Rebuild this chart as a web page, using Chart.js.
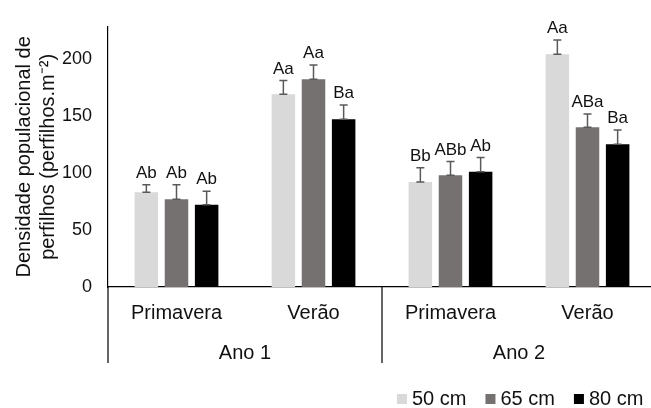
<!DOCTYPE html>
<html lang="pt">
<head>
  <meta charset="UTF-8">
  <title>Densidade populacional de perfilhos</title>
  <script src="https://cdn.jsdelivr.net/npm/chart.js"></script>
  <style>
    body { margin: 0; background: #fff; overflow: hidden; }
    #wrap { width: 656px; height: 408px; }
  </style>
</head>
<body>

<div id="wrap"><canvas id="chart"></canvas></div>

<script>
  const categories = ['Primavera', 'Verão', 'Primavera', 'Verão'];
  const years = ['Ano 1', 'Ano 2'];
  const series = ['50 cm', '65 cm', '80 cm'];
  const colors = ['#d9d9d9', '#767171', '#000000'];

  const values50 = [83, 169, 92, 204];
  const values65 = [77, 182, 98, 140];
  const values80 = [72, 147, 101, 125];

  const errors50 = [6.5, 12, 12.5, 12.5];
  const errors65 = [12.5, 12.5, 12, 11.5];
  const errors80 = [12, 12.5, 12.5, 12.5];

  const letters50 = ['Ab', 'Aa', 'Bb', 'Aa'];
  const letters65 = ['Ab', 'Aa', 'ABb', 'ABa'];
  const letters80 = ['Ab', 'Ba', 'Ab', 'Ba'];

  const yTicks = [0, 50, 100, 150, 200];
  const yTitle = ['Densidade populacional de', 'perfilhos (perfilhos.m⁻²)'];

  const FONT = "'Liberation Sans', Arial, sans-serif";
  const TEXT = '#111';

  const errors = [errors50, errors65, errors80];
  const letters = [letters50, letters65, letters80];

  // error bars, letters, year groups and legend
  const extras = {
    id: 'extras',
    afterDatasetsDraw(chart) {
      const ctx = chart.ctx;
      const y = chart.scales.y;
      ctx.save();
      chart.data.datasets.forEach((ds, i) => {
        const meta = chart.getDatasetMeta(i);
        meta.data.forEach((bar, j) => {
          const v = ds.data[j];
          const top = y.getPixelForValue(v + errors[i][j]);
          const base = y.getPixelForValue(v);
          ctx.strokeStyle = '#595959';
          ctx.lineWidth = 1.5;
          ctx.beginPath();
          ctx.moveTo(bar.x, base);
          ctx.lineTo(bar.x, top);
          ctx.moveTo(bar.x - 4, top);
          ctx.lineTo(bar.x + 4, top);
          ctx.moveTo(bar.x - 4, base);
          ctx.lineTo(bar.x + 4, base);
          ctx.stroke();

          ctx.fillStyle = TEXT;
          ctx.font = '17px ' + FONT;
          ctx.textAlign = 'center';
          ctx.textBaseline = 'bottom';
          ctx.fillText(letters[i][j], bar.x, top - 3);
        });
      });
      ctx.restore();
    },
    afterDraw(chart) {
      const ctx = chart.ctx;
      const x = chart.scales.x;
      const area = chart.chartArea;
      ctx.save();
      ctx.strokeStyle = '#000';
      ctx.lineWidth = 1.2;
      const edges = [area.left,
        (x.getPixelForValue(1) + x.getPixelForValue(2)) / 2,
        area.right];
      ctx.beginPath();
      edges.forEach(px => {
        ctx.moveTo(px, area.bottom);
        ctx.lineTo(px, area.bottom + 76);
      });
      ctx.stroke();

      ctx.fillStyle = TEXT;
      ctx.font = '20px ' + FONT;
      ctx.textAlign = 'center';
      ctx.textBaseline = 'middle';
      years.forEach((name, k) => {
        const cx = (edges[k] + edges[k + 1]) / 2;
        ctx.fillText(name, cx, area.bottom + 66);
      });

      // legend
      let lx = 397;
      const ly = 399;
      ctx.textAlign = 'left';
      series.forEach((name, i) => {
        ctx.fillStyle = colors[i];
        ctx.fillRect(lx, ly - 5, 10, 10);
        lx += 15;
        ctx.fillStyle = TEXT;
        ctx.fillText(name, lx, ly);
        lx += ctx.measureText(name).width + 19;
      });
      ctx.restore();
    }
  };

  new Chart(document.getElementById('chart'), {
    type: 'bar',
    data: {
      labels: categories,
      datasets: [
        { label: series[0], data: values50, backgroundColor: colors[0] },
        { label: series[1], data: values65, backgroundColor: colors[1] },
        { label: series[2], data: values80, backgroundColor: colors[2] }
      ]
    },
    options: {
      responsive: true,
      maintainAspectRatio: false,
      animation: false,
      categoryPercentage: 0.66,
      barPercentage: 0.78,
      layout: { padding: { top: 23, left: 0, right: 0, bottom: 0 } },
      plugins: { legend: { display: false }, tooltip: { enabled: false } },
      scales: {
        x: {
          grid: { display: false, drawTicks: false },
          border: { color: '#000', width: 1.2 },
          ticks: { color: TEXT, font: { family: FONT, size: 20 }, padding: 14, maxRotation: 0 },
          afterFit(scale) { scale.height = 121; }
        },
        y: {
          min: 0,
          max: 228,
          grid: { display: false, drawTicks: false },
          border: { color: '#000', width: 1.2 },
          ticks: { color: TEXT, font: { family: FONT, size: 18 }, padding: 16 },
          afterBuildTicks(scale) { scale.ticks = yTicks.map(v => ({ value: v })); },
          title: {
            display: true,
            text: yTitle,
            color: TEXT,
            font: { family: FONT, size: 20 },
            padding: { top: 12, bottom: 0 }
          },
          afterFit(scale) { scale.width = 108; }
        }
      }
    },
    plugins: [extras]
  });
</script>

</body>
</html>
